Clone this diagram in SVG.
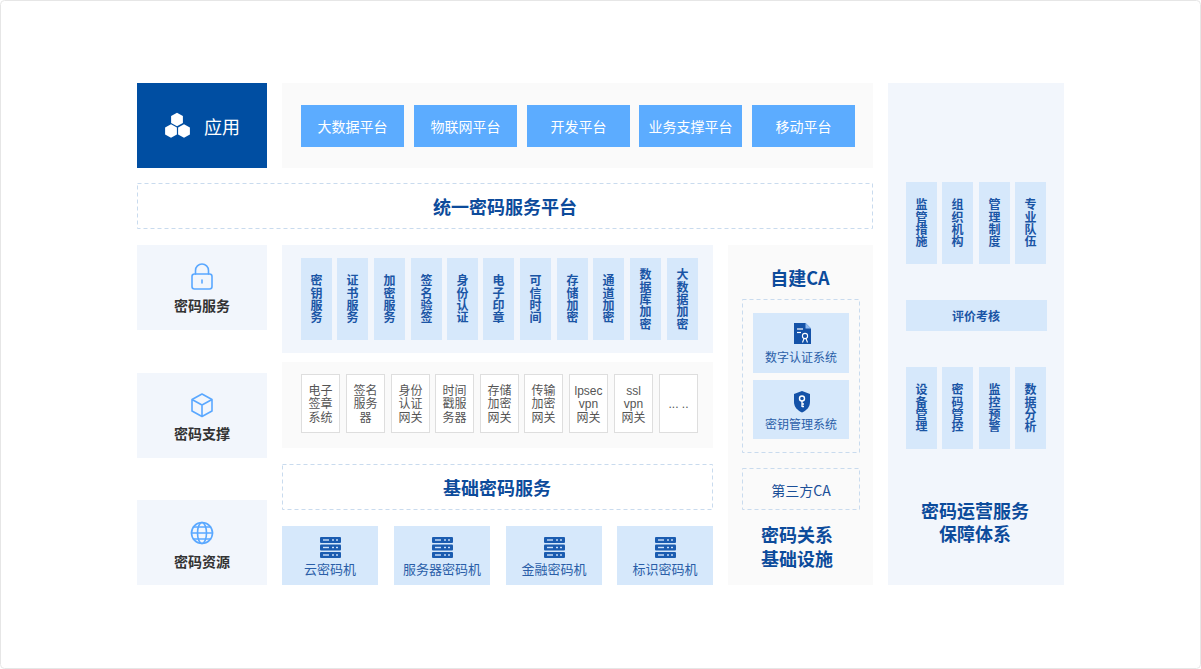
<svg xmlns="http://www.w3.org/2000/svg" width="1201" height="669" viewBox="0 0 1201 669">
<style>
text{font-family:"Noto Sans CJK SC","Noto Sans",sans-serif}
.panelG{fill:#fafafa}
.panelB{fill:#f2f6fc}
.tile{fill:#d6e8fb}
.vt{font-size:12px;font-weight:700;fill:#1a55a5;text-anchor:middle;writing-mode:vertical-rl;letter-spacing:0.3px}
.ht2{font-size:12px;font-weight:700;fill:#1a55a5;text-anchor:middle;dominant-baseline:central}
.head{font-size:18px;font-weight:700;fill:#0c4b9b;text-anchor:middle;dominant-baseline:central}
.head2{font-family:"Liberation Sans","Noto Sans CJK SC",sans-serif;font-size:18px;font-weight:700;fill:#0c4b9b;text-anchor:middle}
.lbl{font-size:14px;font-weight:700;fill:#333;text-anchor:middle;dominant-baseline:central}
.dash{fill:#fff;stroke:#c9dbee;stroke-width:1;stroke-dasharray:4 3}
.plat{fill:#5cacff}
.pt{font-size:14px;fill:#fff;text-anchor:middle;dominant-baseline:central}
.sup{fill:#fff;stroke:#dedede;stroke-width:1}
.st{font-family:"Liberation Sans","Noto Sans CJK SC",sans-serif;font-size:12px;fill:#555;text-anchor:middle}
.ht{font-size:13px;fill:#2a5ea8;text-anchor:middle;dominant-baseline:central}
.ico{fill:none;stroke:#5aa8ff;stroke-width:1.6;stroke-linejoin:round;stroke-linecap:round}
</style>
<defs>
<g id="server">
<rect x="0" y="0" width="21" height="6" rx="1" fill="#1b5cb0"/>
<rect x="0" y="7.5" width="21" height="6" rx="1" fill="#1b5cb0"/>
<rect x="0" y="15" width="21" height="6" rx="1" fill="#1b5cb0"/>
<g fill="#cfe2fa">
<rect x="3" y="2.3" width="6" height="1.4"/><rect x="12" y="2.3" width="2" height="1.4"/><rect x="16" y="2.3" width="2" height="1.4"/>
<rect x="3" y="9.8" width="6" height="1.4"/><rect x="12" y="9.8" width="2" height="1.4"/><rect x="16" y="9.8" width="2" height="1.4"/>
<rect x="3" y="17.3" width="6" height="1.4"/><rect x="12" y="17.3" width="2" height="1.4"/><rect x="16" y="17.3" width="2" height="1.4"/>
</g>
</g>
<polygon id="hex" points="0,-6.8 5.9,-3.4 5.9,3.4 0,6.8 -5.9,3.4 -5.9,-3.4" fill="#fff"/>
</defs>
<rect x="0.5" y="0.5" width="1200" height="668" rx="4" fill="#fff" stroke="#e6e6e6"/>

<g id="app">
<rect x="137" y="83" width="130" height="85" fill="#004ea2"/>
<use href="#hex" x="177" y="119.5"/>
<use href="#hex" x="171" y="131"/>
<use href="#hex" x="184" y="131"/>
<text x="222" y="126" font-size="18" fill="#fff" text-anchor="middle" dominant-baseline="central">应用</text>
</g>

<g id="platforms">
<rect x="282" y="83" width="591" height="85" class="panelG"/>
<rect x="301" y="105" width="103" height="42" class="plat"/><text x="352.5" y="125.5" class="pt">大数据平台</text>
<rect x="414" y="105" width="103" height="42" class="plat"/><text x="465.5" y="125.5" class="pt">物联网平台</text>
<rect x="527" y="105" width="103" height="42" class="plat"/><text x="578.5" y="125.5" class="pt">开发平台</text>
<rect x="639" y="105" width="103" height="42" class="plat"/><text x="690.5" y="125.5" class="pt">业务支撑平台</text>
<rect x="752" y="105" width="103" height="42" class="plat"/><text x="803.5" y="125.5" class="pt">移动平台</text>
</g>

<g id="unified">
<rect x="137.5" y="183.5" width="735" height="45" class="dash"/>
<text x="505" y="206" class="head">统一密码服务平台</text>
</g>

<g id="label-service">
<rect x="137" y="245" width="130" height="85" class="panelB"/>
<path class="ico" d="M195.5,274 v-3.5 a6.5,6.5 0 0 1 13,0 v3.5"/>
<rect class="ico" x="192" y="274" width="20" height="15" rx="2.5"/>
<line class="ico" x1="202" y1="280" x2="202" y2="283"/>
<text x="202" y="305" class="lbl">密码服务</text>
</g>

<g id="label-support">
<rect x="137" y="373" width="130" height="85" class="panelB"/>
<path class="ico" d="M202,394 l10,5.5 v11.5 l-10,5.5 l-10,-5.5 v-11.5 z M192,399.5 l10,5.5 l10,-5.5 M202,405 v11.5"/>
<text x="202" y="433" class="lbl">密码支撑</text>
</g>

<g id="label-resource">
<rect x="137" y="500" width="130" height="85" class="panelB"/>
<circle class="ico" cx="202" cy="533" r="10.5"/>
<ellipse class="ico" cx="202" cy="533" rx="4.5" ry="10.5"/>
<line class="ico" x1="191.5" y1="533" x2="212.5" y2="533"/>
<path class="ico" d="M193.5,527 h17 M193.5,539 h17"/>
<text x="202" y="561" class="lbl">密码资源</text>
</g>

<g id="services">
<rect x="282" y="245" width="431" height="108" class="panelB"/>
<rect x="301" y="258" width="31" height="82" class="tile"/><text x="316.5" y="299.5" class="vt">密钥服务</text>
<rect x="337" y="258" width="31" height="82" class="tile"/><text x="352.5" y="299.5" class="vt">证书服务</text>
<rect x="374" y="258" width="31" height="82" class="tile"/><text x="389.5" y="299.5" class="vt">加密服务</text>
<rect x="411" y="258" width="31" height="82" class="tile"/><text x="426.5" y="299.5" class="vt">签名验签</text>
<rect x="447" y="258" width="31" height="82" class="tile"/><text x="462.5" y="299.5" class="vt">身份认证</text>
<rect x="483" y="258" width="31" height="82" class="tile"/><text x="498.5" y="299.5" class="vt">电子印章</text>
<rect x="520" y="258" width="31" height="82" class="tile"/><text x="535.5" y="299.5" class="vt">可信时间</text>
<rect x="557" y="258" width="31" height="82" class="tile"/><text x="572.5" y="299.5" class="vt">存储加密</text>
<rect x="593" y="258" width="31" height="82" class="tile"/><text x="608.5" y="299.5" class="vt">通道加密</text>
<rect x="630" y="258" width="31" height="82" class="tile"/><text x="645.5" y="299.5" class="vt">数据库加密</text>
<rect x="667" y="258" width="31" height="82" class="tile"/><text x="682.5" y="299.5" class="vt">大数据加密</text>
</g>

<g id="support">
<rect x="282" y="362" width="431" height="86" class="panelG"/>
<rect x="301.5" y="374.5" width="38" height="58" class="sup"/>
<text class="st"><tspan x="320.5" y="394.5">电子</tspan><tspan x="320.5" dy="13.5">签章</tspan><tspan x="320.5" dy="13.5">系统</tspan></text>
<rect x="346.5" y="374.5" width="38" height="58" class="sup"/>
<text class="st"><tspan x="365.5" y="394.5">签名</tspan><tspan x="365.5" dy="13.5">服务</tspan><tspan x="365.5" dy="13.5">器</tspan></text>
<rect x="391.5" y="374.5" width="38" height="58" class="sup"/>
<text class="st"><tspan x="410.5" y="394.5">身份</tspan><tspan x="410.5" dy="13.5">认证</tspan><tspan x="410.5" dy="13.5">网关</tspan></text>
<rect x="435.5" y="374.5" width="38" height="58" class="sup"/>
<text class="st"><tspan x="454.5" y="394.5">时间</tspan><tspan x="454.5" dy="13.5">戳服</tspan><tspan x="454.5" dy="13.5">务器</tspan></text>
<rect x="480.5" y="374.5" width="38" height="58" class="sup"/>
<text class="st"><tspan x="499.5" y="394.5">存储</tspan><tspan x="499.5" dy="13.5">加密</tspan><tspan x="499.5" dy="13.5">网关</tspan></text>
<rect x="524.5" y="374.5" width="38" height="58" class="sup"/>
<text class="st"><tspan x="543.5" y="394.5">传输</tspan><tspan x="543.5" dy="13.5">加密</tspan><tspan x="543.5" dy="13.5">网关</tspan></text>
<rect x="569.5" y="374.5" width="38" height="58" class="sup"/>
<text class="st"><tspan x="588.5" y="394.5">lpsec</tspan><tspan x="588.5" dy="13.5">vpn</tspan><tspan x="588.5" dy="13.5">网关</tspan></text>
<rect x="614.5" y="374.5" width="38" height="58" class="sup"/>
<text class="st"><tspan x="633.5" y="394.5">ssl</tspan><tspan x="633.5" dy="13.5">vpn</tspan><tspan x="633.5" dy="13.5">网关</tspan></text>
<rect x="659.5" y="374.5" width="38" height="58" class="sup"/>
<text x="678.5" y="407.5" class="st">... ..</text>
</g>

<g id="basic">
<rect x="282.5" y="464.5" width="430" height="45" class="dash"/>
<text x="497" y="487" class="head">基础密码服务</text>
</g>

<g id="hardware">
<rect x="282" y="526" width="96" height="59" class="tile"/>
<use href="#server" x="320" y="537"/>
<text x="330" y="568.5" class="ht">云密码机</text>
<rect x="394" y="526" width="96" height="59" class="tile"/>
<use href="#server" x="432" y="537"/>
<text x="442" y="568.5" class="ht">服务器密码机</text>
<rect x="506" y="526" width="96" height="59" class="tile"/>
<use href="#server" x="544" y="537"/>
<text x="554" y="568.5" class="ht">金融密码机</text>
<rect x="617" y="526" width="96" height="59" class="tile"/>
<use href="#server" x="655" y="537"/>
<text x="665" y="568.5" class="ht">标识密码机</text>
</g>

<g id="ca">
<rect x="728" y="245" width="145" height="340" class="panelG"/>
<text x="800" y="277" class="head">自建CA</text>
<rect x="742.5" y="299.5" width="117" height="153" fill="none" stroke="#c9dbee" stroke-dasharray="4 3"/>
<rect x="753" y="313" width="96" height="60" class="tile"/>
<path d="M794,323 h11.5 l5.5,5.5 v15.5 h-17 z" fill="#1452a8"/>
<path d="M805.5,323 v5.5 h5.5 z" fill="#8fbaf0"/>
<line x1="797" y1="329" x2="803" y2="329" stroke="#fff" stroke-width="1.2"/>
<line x1="797" y1="332.5" x2="801" y2="332.5" stroke="#fff" stroke-width="1.2"/>
<circle cx="805" cy="336" r="2.6" fill="none" stroke="#fff" stroke-width="1.1"/>
<path d="M802.5,342.5 l1.5,-4 M807.5,342.5 l-1.5,-4" stroke="#fff" stroke-width="1.1"/>
<text x="801" y="356" font-size="12" fill="#2a5ea8" text-anchor="middle" dominant-baseline="central">数字认证系统</text>
<rect x="753" y="380" width="96" height="59" class="tile"/>
<path d="M802,391 l8,3 v8 c0,5 -3.5,8.5 -8,10.5 c-4.5,-2 -8,-5.5 -8,-10.5 v-8 z" fill="#1452a8"/>
<circle cx="802" cy="398.5" r="2.5" fill="none" stroke="#fff" stroke-width="1.4"/>
<path d="M802,401 v6 M802,404 h2 M802,406.5 h2" stroke="#fff" stroke-width="1.3"/>
<text x="801" y="423" font-size="12" fill="#2a5ea8" text-anchor="middle" dominant-baseline="central">密钥管理系统</text>
<rect x="742.5" y="468.5" width="117" height="41" fill="none" stroke="#c9dbee" stroke-dasharray="4 3"/>
<text x="801" y="490" font-size="14" fill="#1a4f98" text-anchor="middle" dominant-baseline="central">第三方CA</text>
<text class="head2"><tspan x="797" y="541.5">密码关系</tspan><tspan x="797" dy="24">基础设施</tspan></text>
</g>

<g id="operation">
<rect x="888" y="83" width="176" height="502" class="panelB"/>
<rect x="906" y="182" width="31" height="82" class="tile"/><text x="921.5" y="223.5" class="vt">监管措施</text>
<rect x="942" y="182" width="31" height="82" class="tile"/><text x="957.5" y="223.5" class="vt">组织机构</text>
<rect x="979" y="182" width="31" height="82" class="tile"/><text x="994.5" y="223.5" class="vt">管理制度</text>
<rect x="1015" y="182" width="31" height="82" class="tile"/><text x="1030.5" y="223.5" class="vt">专业队伍</text>
<rect x="906" y="300" width="141" height="31" class="tile"/>
<text x="976" y="315" class="ht2">评价考核</text>
<rect x="906" y="367" width="31" height="82" class="tile"/><text x="921.5" y="408.5" class="vt">设备管理</text>
<rect x="942" y="367" width="31" height="82" class="tile"/><text x="957.5" y="408.5" class="vt">密码管控</text>
<rect x="979" y="367" width="31" height="82" class="tile"/><text x="994.5" y="408.5" class="vt">监控预警</text>
<rect x="1015" y="367" width="31" height="82" class="tile"/><text x="1030.5" y="408.5" class="vt">数据分析</text>
<text class="head2"><tspan x="975" y="517.5">密码运营服务</tspan><tspan x="975" dy="23">保障体系</tspan></text>
</g>

<g id="connectors"></g>
</svg>
